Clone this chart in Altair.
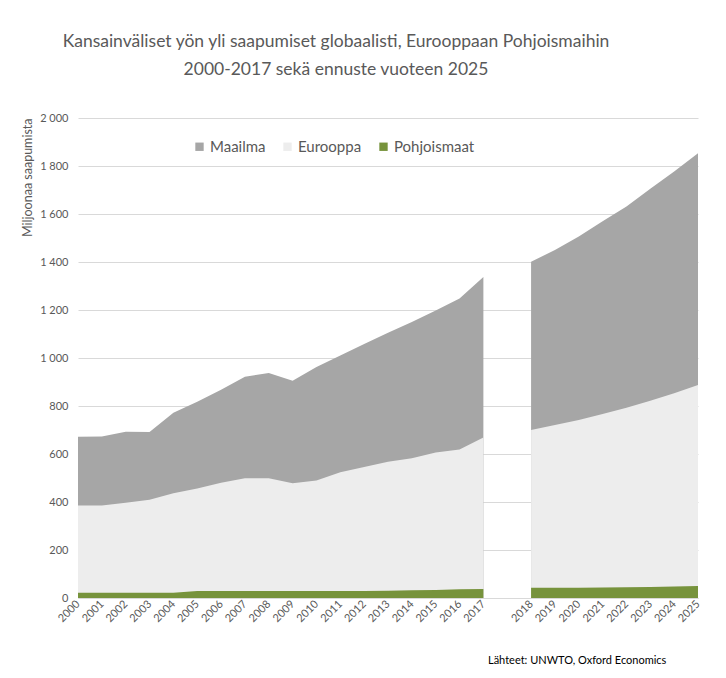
import altair as alt
import pandas as pd

years_hist = [str(y) for y in range(2000, 2018)]
world_hist = [672, 673, 693, 692, 772, 818, 868, 922, 938, 905, 962, 1010, 1058, 1105, 1150, 1198, 1248, 1338]
europe_hist = [385, 385, 397, 409, 436, 456, 480, 499, 499, 478, 490, 524, 546, 568, 582, 606, 619, 669]
nordic_hist = [22, 22, 22, 22, 22, 29, 29, 29, 29, 29, 29, 29, 29, 30, 32, 33, 36, 38]

years_fc = [str(y) for y in range(2018, 2026)]
world_fc = [1401, 1450, 1506, 1570, 1631, 1705, 1777, 1853]
europe_fc = [700, 721, 742, 767, 793, 822, 853, 887]
nordic_fc = [43, 43, 43, 44, 45, 46, 48, 50]

series_names = ["Maailma", "Eurooppa", "Pohjoismaat"]
series_colors = ["#a6a6a6", "#ededed", "#77933c"]
gap_label = "gap"
x_domain = years_hist + [gap_label] + years_fc

rows = []
for seg, yrs, vals in [
    ("hist", years_hist, [world_hist, europe_hist, nordic_hist]),
    ("fc", years_fc, [world_fc, europe_fc, nordic_fc]),
]:
    for name, vs in zip(series_names, vals):
        for y, v in zip(yrs, vs):
            rows.append({"year": y, "series": name, "value": v, "segment": seg})
df = pd.DataFrame(rows)

FONT = "Lato"
GREY = "#595959"

x_enc = alt.X(
    "year:O",
    scale=alt.Scale(type="point", domain=x_domain, padding=0),
    axis=alt.Axis(
        title=None,
        labelAngle=-45,
        labelAlign="right",
        labelBaseline="middle",
        labelExpr="datum.value == 'gap' ? '' : datum.value",
        labelFont=FONT,
        labelFontSize=11,
        labelColor=GREY,
        labelPadding=4,
        ticks=False,
        domainColor="#d9d9d9",
        grid=False,
    ),
)
y_enc = alt.Y(
    "value:Q",
    stack=None,
    scale=alt.Scale(domain=[0, 2000]),
    axis=alt.Axis(
        title="Miljoonaa saapumista",
        titleAnchor="end",
        titleFont=FONT,
        titleFontSize=12.5,
        titleFontWeight="normal",
        titleColor=GREY,
        titlePadding=5,
        values=list(range(0, 2001, 200)),
        labelExpr="replace(format(datum.value, ',d'), ',', ' ')",
        labelFont=FONT,
        labelFontSize=11,
        labelColor=GREY,
        labelPadding=10,
        ticks=False,
        domain=False,
        gridColor="#d9d9d9",
    ),
)
color_enc = alt.Color(
    "series:N",
    scale=alt.Scale(domain=series_names, range=series_colors),
    legend=alt.Legend(
        title=None,
        orient="none",
        legendX=114,
        legendY=21,
        direction="horizontal",
        symbolType="square",
        symbolSize=70,
        symbolStrokeWidth=0,
        labelFont=FONT,
        labelFontSize=15,
        labelColor=GREY,
        columnPadding=14,
        labelOffset=3,
    ),
)

layers = []
for name in series_names:
    layers.append(
        alt.Chart(df)
        .transform_filter(alt.datum.series == name)
        .mark_area(opacity=1, interpolate="linear")
        .encode(x=x_enc, y=y_enc, color=color_enc, detail="segment:N")
    )

source = alt.Chart(pd.DataFrame({"t": ["Lähteet: UNWTO, Oxford Economics"]})).mark_text(
    font=FONT, fontSize=11, color="#000000", align="left", baseline="middle"
).encode(text="t:N", x=alt.value(410), y=alt.value(543))

chart = (
    alt.layer(*layers, source)
    .properties(
        width=620,
        height=480,
        padding={"left": 70, "top": 110, "right": 20, "bottom": 72},
        autosize=alt.AutoSizeParams(type="none"),
        title=alt.TitleParams(
            text=[
                "Kansainväliset yön yli saapumiset globaalisti, Eurooppaan Pohjoismaihin",
                "2000-2017 sekä ennuste vuoteen 2025",
            ],
            anchor="middle",
            dx=-52,
            offset=34,
            font=FONT,
            fontSize=17.5,
            fontWeight="normal",
            color=GREY,
            lineHeight=28,
        ),
    )
    .configure_view(stroke=None)
)

chart.save("out.html", embed_options={"renderer": "svg", "actions": False})
